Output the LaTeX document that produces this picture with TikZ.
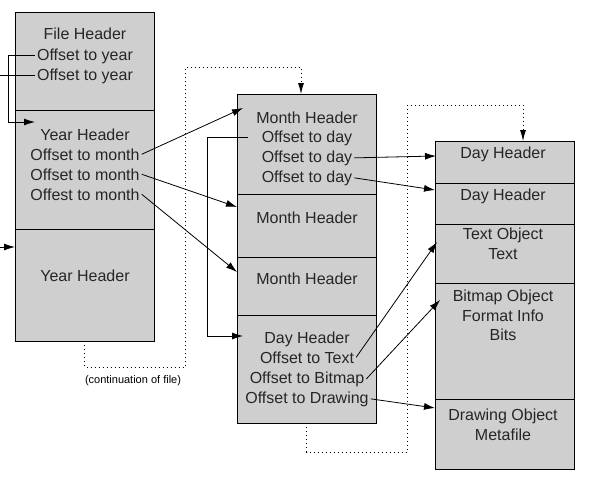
\documentclass[tikz,border=0pt]{standalone}
\usepackage{fontspec}
\setmainfont{Liberation Sans}
\usetikzlibrary{arrows.meta,calc}
\begin{document}
\begin{tikzpicture}[x=1pt,y=-1pt,
  cell/.style={draw=black,line width=1pt,fill=black!19,rectangle,inner sep=0pt,outer sep=0pt,anchor=north west,minimum width=139pt},
  txt/.style={anchor=base,inner sep=2pt,text=black!85,font=\fontsize{16}{20}\selectfont},
  small/.style={anchor=base,inner sep=1pt,font=\fontsize{11}{13}\selectfont},
  conn/.style={draw=black,line width=0.8pt},
  arr/.style={conn,-{Latex[length=11pt,width=7pt]}},
  dotline/.style={draw=black,line width=0.8pt,dash pattern=on 1pt off 3pt},
  darr/.style={dotline,-{Latex[length=11pt,width=6pt]}}]
\useasboundingbox (0,0) rectangle (592,479);
% left column
\node[cell,minimum height=98pt] (L1) at (15,12) {};
\node[cell,minimum height=119pt] (L2) at (15,110) {};
\node[cell,minimum height=112pt] (L3) at (15,229) {};
% middle column
\node[cell,minimum height=100pt] (M1) at (237,94) {};
\node[cell,minimum height=63pt] (M2) at (237,194) {};
\node[cell,minimum height=58pt] (M3) at (237,257) {};
\node[cell,minimum height=108pt] (M4) at (237,315) {};
% right column
\node[cell,minimum height=42pt] (R1) at (435,141) {};
\node[cell,minimum height=41pt] (R2) at (435,183) {};
\node[cell,minimum height=59pt] (R3) at (435,224) {};
\node[cell,minimum height=116pt] (R4) at (435,283) {};
\node[cell,minimum height=70pt] (R5) at (435,399) {};
% left texts
\node[txt] (fh) at (85,39) {File Header};
\node[txt] (oy1) at (85,60) {Offset to year};
\node[txt] (oy2) at (85,80) {Offset to year};
\node[txt] (yh) at (85,140) {Year Header};
\node[txt] (om1) at (85,160) {Offset to month};
\node[txt] (om2) at (85,180) {Offset to month};
\node[txt] (om3) at (85,200) {Offest to month};
\node[txt] (yh2) at (85,281) {Year Header};
\node[small] (cont) at (133,383) {(continuation of file)};
% middle texts
\node[txt] (mh1) at (307,123) {Month Header};
\node[txt] (od1) at (307,142) {Offset to day};
\node[txt] (od2) at (307,162) {Offset to day};
\node[txt] (od3) at (307,182) {Offset to day};
\node[txt] (mh2) at (307,223) {Month Header};
\node[txt] (mh3) at (307,284) {Month Header};
\node[txt] (dh) at (307,343) {Day Header};
\node[txt] (ot) at (307,363) {Offset to Text};
\node[txt] (ob) at (307,383) {Offset to Bitmap};
\node[txt] (odr) at (307,403) {Offset to Drawing};
% right texts
\node[txt] (rd1) at (503,158) {Day Header};
\node[txt] (rd2) at (503,200) {Day Header};
\node[txt] (rto) at (503,239) {Text Object};
\node[txt] (rt) at (503,259) {Text};
\node[txt] (rbo) at (503,301) {Bitmap Object};
\node[txt] (rfi) at (503,321) {Format Info};
\node[txt] (rbi) at (503,340) {Bits};
\node[txt] (rdo) at (503,420) {Drawing Object};
\node[txt] (rmf) at (503,440) {Metafile};
% helper coordinates
\coordinate (bx) at (8,0);
\coordinate (edge) at (0,0);
\coordinate (offr) at (0,247);
\coordinate (mbx) at (207,0);
\coordinate (ytip) at ($(L2.north west)+(20,12)$);
\coordinate (dtip) at ($(M4.north west)+(6,21)$);
% left bracket
\draw[arr] (oy1.west) -- (oy1.west -| bx) |- (ytip);
\draw[conn] (oy2.west) -- (oy2.west -| edge);
\draw[arr] (offr) -- (L3.west |- offr);
% middle bracket
\draw[arr] ($(od1.west)+(-12,0)$) -- (od1.west -| mbx) |- (dtip);
% left to middle
\draw[arr] (om1.east) -- ($(M1.north west)+(6,14)$);
\draw[arr] (om2.east) -- ($(M2.north west)+(0,13)$);
\draw[arr] (om3.east) -- ($(M3.north west)+(0,15)$);
% middle to right
\draw[arr] (od2.east) -- ($(R1.north west)+(1,15)$);
\draw[arr] (od3.east) -- ($(R2.north west)+(0,7)$);
\draw[arr] (ot.east) -- ($(R3.north west)+(2,18)$);
\draw[arr] (ob.east) -- ($(R4.north west)+(5,17)$);
\draw[arr] (odr.east) -- ($(R5.north west)+(0,9)$);
% dotted continuations
\coordinate (d1a) at (185,367);
\coordinate (d1b) at (185,67);
\draw[darr] (L3.south) |- (d1a) -- (d1b) -| ($(M1.north west)+(64,0)$);
\coordinate (d2a) at (407,452);
\coordinate (d2b) at (407,105);
\draw[darr] (M4.south) |- (d2a) -- (d2b) -| ($(R1.north west)+(88,0)$);
\end{tikzpicture}
\end{document}
